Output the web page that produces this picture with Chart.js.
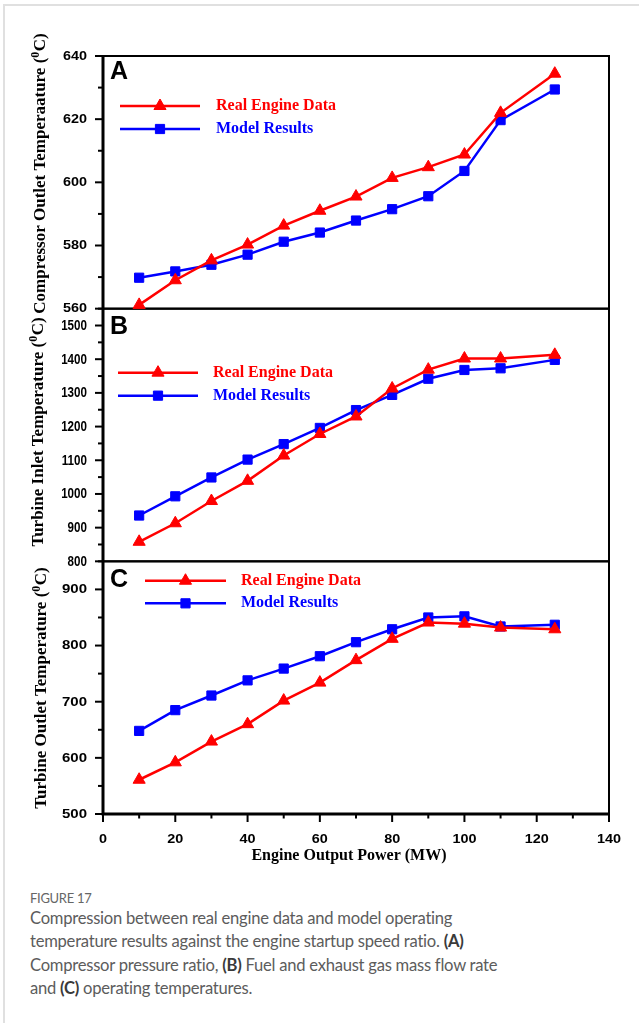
<!DOCTYPE html>
<html>
<head>
<meta charset="utf-8">
<script src="https://cdn.jsdelivr.net/npm/chart.js@4.4.1/dist/chart.umd.min.js"></script>
<style>
  html, body { margin: 0; padding: 0; background: #fff; }
  body { width: 639px; height: 1023px; position: relative; overflow: hidden; }
  #frameTop { position: absolute; left: 3px; top: 4px; right: 0; height: 2px; background: #e0e0e0; }
  #frameLeft { position: absolute; left: 3px; top: 4px; bottom: 0; width: 2px; background: #e0e0e0; }
  #chartBox { position: absolute; left: 0; top: 0; width: 639px; height: 880px; }
  #caption { position: absolute; left: 30px; top: 889px; width: 605px; font-family: Lato, "Open Sans", sans-serif; color: #5c5c5c; }
  #caption .fig { font-size: 13px; line-height: 18px; color: #666; letter-spacing: -0.3px; }
  #caption .txt { font-size: 16.6px; line-height: 23.3px; white-space: nowrap; letter-spacing: -0.25px; }
  #caption .txt b { font-weight: 700; color: #3a3a3a; }
</style>
</head>
<body>
<div id="frameTop"></div>
<div id="frameLeft"></div>
<div id="chartBox"><canvas id="chart" width="639" height="880"></canvas></div>
<div id="caption">
  <div class="fig">FIGURE 17</div>
  <div class="txt">Compression between real engine data and model operating<br>temperature results against the engine startup speed ratio. <b>(A)</b><br>Compressor pressure ratio, <b>(B)</b> Fuel and exhaust gas mass flow rate<br>and <b>(C)</b> operating temperatures.</div>
</div>
<script>
// ---- data ----
const powerMW = [10, 20, 30, 40, 50, 60, 70, 80, 90, 100, 110, 125];

const compressorReal  = [561.2, 569.0, 575.3, 580.3, 586.3, 591.0, 595.5, 601.4, 604.8, 608.8, 622.0, 634.4];
const compressorModel = [569.8, 571.8, 573.9, 577.1, 581.2, 584.1, 587.9, 591.5, 595.6, 603.6, 619.7, 629.4];

const turbineInletReal  = [858, 913, 979, 1039, 1114, 1178, 1230, 1313, 1369, 1402, 1402, 1413];
const turbineInletModel = [936, 993, 1049, 1102, 1148, 1196, 1249, 1294, 1342, 1368, 1373, 1398];

const turbineOutletReal  = [561, 592, 629, 660, 702, 734, 774, 812, 841, 839, 832, 829];
const turbineOutletModel = [648, 685, 711, 738, 759, 781, 806, 829, 850, 852, 834, 837];

const seriesNames = ['Real Engine Data', 'Model Results'];

const compressorTicks    = [560, 580, 600, 620, 640];
const turbineInletTicks  = [800, 900, 1000, 1100, 1200, 1300, 1400, 1500];
const turbineOutletTicks = [500, 600, 700, 800, 900];
const powerTicks         = [0, 20, 40, 60, 80, 100, 120, 140];

const panelLetters = ['A', 'B', 'C'];
const axisTitles = ['Compressor Outlet Temperaature', 'Turbine Inlet Temperature', 'Turbine Outlet Temperature'];
const xAxisTitle = 'Engine Output Power (MW)';

// ---- layout & style of the three stacked panels ----
const RED = '#ff0000', BLUE = '#0000ff';
const SERIF = '"Liberation Serif", "Times New Roman", serif';
const SANS = '"Liberation Sans", Arial, sans-serif';

const panels = [
  { id: 'yA', min: 560, max: 640, minor: 10, labels: compressorTicks, real: compressorReal, model: compressorModel,
    title: axisTitles[0], titleX: 41, titleY: 173.5, letter: panelLetters[0], letterDy: 16,
    legend: { x0: 120, x1: 200, tx: 216, dy: [50, 73] }, tickFont: 12, tickSx: 1.2, weight: 3 },
  { id: 'yB', min: 800, max: 1550, minor: 50, labels: turbineInletTicks, real: turbineInletReal, model: turbineInletModel,
    title: axisTitles[1], titleX: 39, titleY: 432, letter: panelLetters[1], letterDy: 18.3,
    legend: { x0: 118, x1: 198, tx: 213, dy: [64, 87] }, tickFont: 14, tickSx: 0.83, weight: 2 },
  { id: 'yC', min: 500, max: 950, minor: 50, labels: turbineOutletTicks, real: turbineOutletReal, model: turbineOutletModel,
    title: axisTitles[2], titleX: 42, titleY: 688, letter: panelLetters[2], letterDy: 18.7,
    legend: { x0: 145, x1: 226, tx: 241, dy: [19.4, 42] }, tickFont: 12, tickSx: 1.25, weight: 1 }
];

const realStyle  = { color: RED,  pointStyle: 'triangle', radius: 7 };
const modelStyle = { color: BLUE, pointStyle: 'rect',     radius: 6.5 };

function series(name, ys, yAxisID, st) {
  return {
    label: name,
    data: powerMW.map((x, i) => ({ x: x, y: ys[i] })),
    yAxisID: yAxisID,
    borderColor: st.color,
    backgroundColor: st.color,
    borderWidth: 2.5,
    pointStyle: st.pointStyle,
    pointRadius: st.radius,
    pointHoverRadius: st.radius,
    pointBorderWidth: 1,
    pointBackgroundColor: st.color,
    pointBorderColor: st.color,
    tension: 0,
    clip: false
  };
}

const datasets = [];
panels.forEach(p => {
  datasets.push(series(seriesNames[0], p.real, p.id, realStyle));
  datasets.push(series(seriesNames[1], p.model, p.id, modelStyle));
});

const scales = {
  x: {
    type: 'linear', position: 'bottom', min: 0, max: 140,
    ticks: { display: false, stepSize: 10 },
    grid: { display: false }, border: { display: false },
    afterFit(s) { s.height = 60; }
  }
};
panels.forEach(p => {
  scales[p.id] = {
    type: 'linear', position: 'left', stack: 'panels', stackWeight: 1, weight: p.weight,
    min: p.min, max: p.max,
    ticks: { display: false, stepSize: p.minor },
    grid: { display: false }, border: { display: false },
    afterFit(s) { s.width = 103; }
  };
});

function stretchedText(ctx, text, x, y, sx, align) {
  ctx.save();
  ctx.translate(x, y);
  ctx.scale(sx, 1);
  ctx.textAlign = align;
  ctx.textBaseline = 'middle';
  ctx.fillText(text, 0, 0);
  ctx.restore();
}

function verticalTitle(ctx, text, cx, cy) {
  const big = 'bold 17px ' + SERIF, small = 'bold 12px ' + SERIF;
  const head = text + ' (', tail = 'C)';
  ctx.save();
  ctx.translate(cx, cy);
  ctx.rotate(-Math.PI / 2);
  ctx.fillStyle = '#000';
  ctx.textBaseline = 'middle';
  ctx.textAlign = 'left';
  ctx.font = big;  const w1 = ctx.measureText(head).width, w3 = ctx.measureText(tail).width;
  ctx.font = small; const w2 = ctx.measureText('0').width + 0.5;
  let x = -(w1 + w2 + w3) / 2;
  ctx.font = big;   ctx.fillText(head, x, 0); x += w1;
  ctx.font = small; ctx.fillText('0', x, -5); x += w2;
  ctx.font = big;   ctx.fillText(tail, x, 0);
  ctx.restore();
}

// frames, axes, ticks and titles of the stacked panels
const panelFrames = {
  id: 'panelFrames',
  beforeDatasetsDraw(chart) {
    const ctx = chart.ctx, area = chart.chartArea, xs = chart.scales.x;
    ctx.save();
    ctx.strokeStyle = '#000';
    ctx.fillStyle = '#000';

    panels.forEach(p => {
      const s = chart.scales[p.id];
      // panel box
      ctx.lineWidth = 2;
      ctx.strokeRect(area.left, s.top, area.right - area.left, s.bottom - s.top);
      // y ticks
      ctx.lineWidth = 2;
      s.ticks.forEach(t => {
        const y = s.getPixelForValue(t.value);
        const major = p.labels.includes(t.value);
        ctx.beginPath();
        ctx.moveTo(area.left - (major ? 8 : 5), y);
        ctx.lineTo(area.left, y);
        ctx.stroke();
      });
      // y tick labels
      ctx.font = 'bold ' + p.tickFont + 'px ' + SANS;
      p.labels.forEach(v => {
        stretchedText(ctx, String(v), 87, s.getPixelForValue(v) + 0.5, p.tickSx, 'right');
      });
      // axis title and panel letter
      verticalTitle(ctx, p.title, p.titleX, p.titleY);
      ctx.font = 'bold 25px ' + SANS;
      ctx.textAlign = 'left';
      ctx.textBaseline = 'middle';
      ctx.fillText(p.letter, 110, s.top + p.letterDy);
    });

    // left and bottom axis lines
    ctx.lineWidth = 3;
    ctx.beginPath();
    ctx.moveTo(area.left, area.top - 1);
    ctx.lineTo(area.left, area.bottom + 1.5);
    ctx.moveTo(area.left - 1.5, area.bottom);
    ctx.lineTo(area.right + 1, area.bottom);
    ctx.stroke();

    // x ticks
    ctx.lineWidth = 2;
    xs.ticks.forEach(t => {
      const x = xs.getPixelForValue(t.value);
      const major = powerTicks.includes(t.value);
      ctx.beginPath();
      ctx.moveTo(x, area.bottom);
      ctx.lineTo(x, area.bottom + (major ? 8 : 4.5));
      ctx.stroke();
    });
    ctx.font = 'bold 12px ' + SANS;
    powerTicks.forEach(v => {
      stretchedText(ctx, String(v), xs.getPixelForValue(v), 840, 1.2, 'center');
    });
    ctx.font = 'bold 16px ' + SERIF;
    ctx.textAlign = 'center';
    ctx.textBaseline = 'middle';
    ctx.fillText(xAxisTitle, 349, 856);
    ctx.restore();
  },
  afterDatasetsDraw(chart) {
    // in-panel legends
    const ctx = chart.ctx;
    ctx.save();
    panels.forEach(p => {
      const s = chart.scales[p.id];
      [realStyle, modelStyle].forEach((st, k) => {
        const y = s.top + p.legend.dy[k];
        ctx.strokeStyle = st.color;
        ctx.fillStyle = st.color;
        ctx.lineWidth = 2.5;
        ctx.beginPath();
        ctx.moveTo(p.legend.x0, y);
        ctx.lineTo(p.legend.x1, y);
        ctx.stroke();
        ctx.lineWidth = 1;
        Chart.helpers.drawPoint(ctx, { pointStyle: st.pointStyle, radius: st.radius, rotation: 0, borderWidth: 1 },
          (p.legend.x0 + p.legend.x1) / 2, y);
        ctx.font = 'bold 16px ' + SERIF;
        ctx.textAlign = 'left';
        ctx.textBaseline = 'middle';
        ctx.fillText(seriesNames[k], p.legend.tx, y);
      });
    });
    ctx.restore();
  }
};

new Chart(document.getElementById('chart'), {
  type: 'line',
  data: { datasets: datasets },
  options: {
    responsive: false,
    devicePixelRatio: 1,
    animation: false,
    layout: { padding: { left: 0, top: 56, right: 30, bottom: 6 } },
    plugins: { legend: { display: false }, tooltip: { enabled: false } },
    scales: scales
  },
  plugins: [panelFrames]
});
</script>
</body>
</html>
